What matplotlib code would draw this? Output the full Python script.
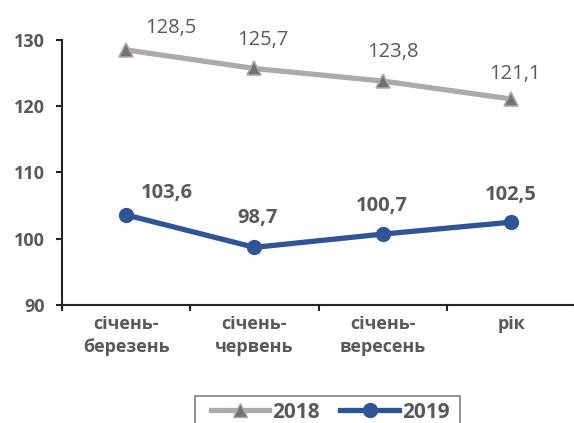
import numpy as np
import matplotlib.pyplot as plt
from matplotlib.lines import Line2D
from matplotlib.patches import Rectangle

categories = ['січень-\nберезень', 'січень-\nчервень', 'січень-\nвересень', 'рік']
values_2018 = [128.5, 125.7, 123.8, 121.1]
values_2019 = [103.6, 98.7, 100.7, 102.5]

# label offsets from the marker, in pixels
offs_2018 = [(45, 22), (8, 28), (10, 29), (4, 25)]
offs_2019 = [(41, 22), (3, 29), (-1, 28), (0, 27)]

plt.rcParams['font.family'] = ['Open Sans', 'DejaVu Sans']
TXT = '#595959'
GREY = '#AEAAAA'
TRI = '#767171'
BLUE = '#2F5597'

W, H = 574, 423
fig = plt.figure(figsize=(W / 100, H / 100), dpi=100)
ax = fig.add_axes([62 / W, 1 - 305 / H, 1 - 62 / W + 0.002, 265 / H])

x = np.arange(len(categories)) + 0.5
ax.plot(x, values_2018, color=GREY, lw=3.8, marker='^', ms=10,
        markerfacecolor=TRI, markeredgecolor=GREY, markeredgewidth=1.2, zorder=3)
ax.plot(x, values_2019, color=BLUE, lw=3.8, marker='o', ms=10,
        markerfacecolor=BLUE, markeredgecolor=BLUE, zorder=3)

for xi, v, (dx, dy) in zip(x, values_2018, offs_2018):
    ax.annotate(f'{v:.1f}'.replace('.', ','), (xi, v), xytext=(dx, dy),
                textcoords='offset pixels', ha='center', va='center',
                fontsize=14.5, color=TXT)
for xi, v, (dx, dy) in zip(x, values_2019, offs_2019):
    ax.annotate(f'{v:.1f}'.replace('.', ','), (xi, v), xytext=(dx, dy),
                textcoords='offset pixels', ha='center', va='center',
                fontsize=14.5, color=TXT, fontweight='bold')

ax.set_xlim(0, len(categories))
ax.set_ylim(90, 130)
ax.set_yticks([90, 100, 110, 120, 130])
ax.set_xticks(np.arange(len(categories) + 1))
ax.set_xticklabels([])
ax.set_xticks(x, minor=True)
ax.set_xticklabels(categories, minor=True, fontsize=13, fontweight='bold',
                   color=TXT, linespacing=1.35)
ax.tick_params(axis='x', which='minor', length=0, pad=7)
ax.tick_params(axis='x', which='major', length=4.5, width=1.5, color='#262626')
ax.tick_params(axis='y', length=4.5, width=1.5, color='#262626',
               labelsize=13, labelcolor=TXT, pad=8)
for lbl in ax.get_yticklabels():
    lbl.set_fontweight('bold')

for s in ['top', 'right']:
    ax.spines[s].set_visible(False)
for s in ['left', 'bottom']:
    ax.spines[s].set_linewidth(1.5)
    ax.spines[s].set_color('#262626')

handles = [
    Line2D([], [], color=GREY, lw=3.8, marker='^', ms=10,
           markerfacecolor=TRI, markeredgecolor=GREY, label='2018'),
    Line2D([], [], color=BLUE, lw=3.8, marker='o', ms=10,
           markerfacecolor=BLUE, markeredgecolor=BLUE, label='2019'),
]
leg = fig.legend(handles=handles, loc='center', bbox_to_anchor=(330 / W, 1 - 412 / H),
                 ncol=2, frameon=False, handlelength=2.8,
                 columnspacing=1.0, handletextpad=0.15, borderpad=0.2,
                 prop={'size': 15, 'weight': 'bold'})
for t in leg.get_texts():
    t.set_color(TXT)
fig.patches.append(Rectangle((195 / W, -0.05), 265 / W, 0.05 + 1 - 396 / H,
                             transform=fig.transFigure, fill=False,
                             edgecolor='#808080', lw=1.2))

fig.savefig('out.png', dpi=100)
